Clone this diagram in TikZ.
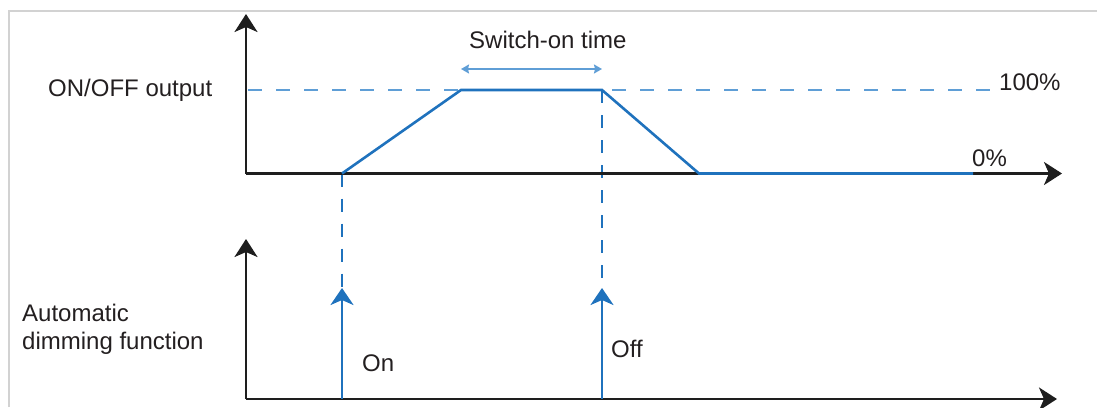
\documentclass[tikz,border=0pt]{standalone}
\usepackage{fontspec}
\setmainfont{Liberation Sans}
\usetikzlibrary{arrows.meta}
\definecolor{txt}{RGB}{35,31,32}
\definecolor{axis}{RGB}{30,30,30}
\definecolor{sigblue}{RGB}{31,114,189}
\definecolor{lightblue}{RGB}{95,158,214}
\definecolor{frame}{RGB}{210,210,210}
\begin{document}
\begin{tikzpicture}[x=1pt,y=-1pt,
  lbl/.style={font=\fontsize{24}{28}\selectfont, text=txt, inner sep=0pt},
  axisline/.style={draw=axis, line width=2.6pt, -{Stealth[length=18pt,width=23pt,inset=5pt]}},
  sigline/.style={draw=sigblue, line width=2.6pt, line join=miter},
  sigarrow/.style={draw=sigblue, line width=2.6pt, -{Stealth[length=17pt,width=23pt,inset=5pt]}},
  guide/.style={draw=lightblue, line width=1.4pt, dash pattern=on 14pt off 14pt},
  vguide/.style={draw=sigblue, line width=1.4pt, dash pattern=on 13pt off 12pt},
  dimarrow/.style={draw=lightblue, line width=1.6pt, {Stealth[length=8pt,width=9pt,inset=1pt]}-{Stealth[length=8pt,width=9pt,inset=1pt]}}
]
\useasboundingbox (0,0) rectangle (1097,407);
% open frame
\draw[frame, line width=2pt] (8.5,407) -- (8.5,10.5) -- (1097,10.5);

% coordinates
\coordinate (o1) at (246,173.5);
\coordinate (y1) at (246,14);
\coordinate (x1) at (1062,173.5);
\coordinate (o2) at (246,399);
\coordinate (y2) at (246,239);
\coordinate (x2) at (1057,399);

\coordinate (p0) at (342,173.5);
\coordinate (p1) at (461,90);
\coordinate (p2) at (602,90);
\coordinate (p3) at (699,173.5);
\coordinate (p4) at (973,173.5);

\coordinate (g0) at (248,90);
\coordinate (g1) at (995,90);

\coordinate (onb) at (342,399);
\coordinate (ont) at (342,288);
\coordinate (offb) at (602,399);
\coordinate (offt) at (602,288);

\coordinate (d0) at (461,69);
\coordinate (d1) at (602,69);

% guides
\draw[guide] (g0) -- (g1);
\draw[vguide] (p0) -- (ont);
\draw[vguide] (p2) -- (offt);

% axes
\draw[axisline] (o1) -- (y1);
\draw[axisline] (o1) -- (x1);
\draw[axisline] (o2) -- (y2);
\draw[axisline] (o2) -- (x2);

% signal
\draw[sigline] (p0) -- (p1) -- (p2) -- (p3) -- (p4);
\draw[sigarrow] (onb) -- (ont);
\draw[sigarrow] (offb) -- (offt);

% switch-on time
\draw[dimarrow] (d0) -- (d1);

% labels
\node[lbl, anchor=base west] (lon) at (48,96) {ON/OFF output};
\node[lbl, anchor=base west] (lsw) at (469,48) {Switch-on time};
\node[lbl, anchor=base west] (l100) at (999,90) {100\%};
\node[lbl, anchor=base west] (l0) at (972,166) {0\%};
\node[lbl, anchor=base west] (lOn) at (362,371) {On};
\node[lbl, anchor=base west] (lOff) at (611,357) {Off};
\node[lbl, anchor=base west] (la1) at (22,321) {Automatic};
\node[lbl, anchor=base west] (la2) at (22,349) {dimming function};
\end{tikzpicture}
\end{document}
